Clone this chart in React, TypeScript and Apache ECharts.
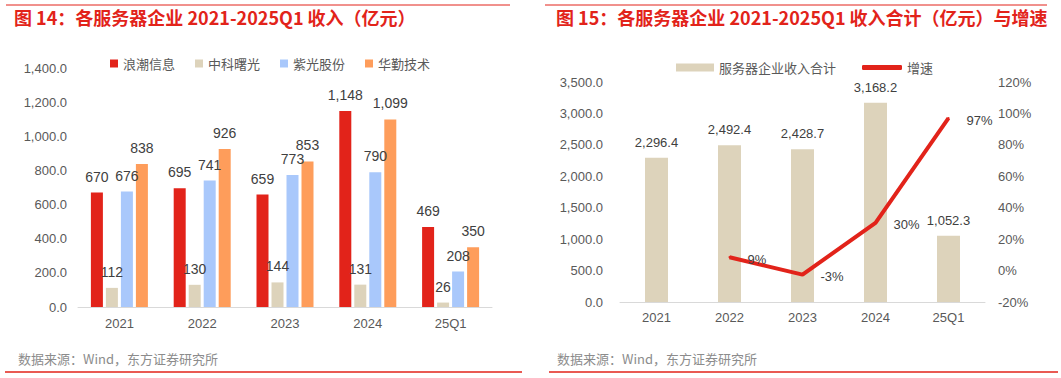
import React, { useEffect, useRef } from "react";
import * as echarts from "echarts";

const categories = ["2021", "2022", "2023", "2024", "25Q1"];
const inspur = [670, 695, 659, 1148, 469];
const sugon = [112, 130, 144, 131, 26];
const unisplendour = [676, 741, 773, 790, 208];
const huaqin = [838, 926, 853, 1099, 350];
const totalRevenue = [2296.4, 2492.4, 2428.7, 3168.2, 1052.3];
const growth = [null, 8.5, -2.6, 30.4, 97];

const FONT = "'Liberation Sans', 'Noto Sans CJK SC', sans-serif";
const CJK = "'Noto Sans CJK SC', 'Liberation Sans', sans-serif";
const RED = "#e2231a";
const BEIGE = "#ddd3bb";
const BLUE = "#a9c8fb";
const ORANGE = "#fe9d5b";
const AXIS_TXT = "#595959";
const LABEL_TXT = "#404040";

const fmt1 = (v: number) =>
  v.toLocaleString("en-US", { minimumFractionDigits: 1, maximumFractionDigits: 1 });
const fmt0 = (v: number) => Math.round(v).toLocaleString("en-US");

export default function App() {
  const ref = useRef<HTMLDivElement>(null);
  useEffect(() => {
    if (!ref.current) return;
    const chart = echarts.init(ref.current, null, { renderer: "svg" });
    const barLabel = {
      show: true,
      position: "top" as const,
      distance: 9,
      color: LABEL_TXT,
      fontSize: 14,
      fontFamily: FONT,
      formatter: (p: any) => fmt0(p.value),
    };
    const mkBar = (name: string, data: number[], color: string) => ({
      name,
      type: "bar",
      xAxisIndex: 0,
      yAxisIndex: 0,
      data,
      barWidth: 12,
      barGap: "25%",
      itemStyle: { color },
      label: barLabel,
    });
    chart.setOption({
      animation: false,
      backgroundColor: "#fff",
      textStyle: { fontFamily: FONT },
      graphic: [
        { type: "line", shape: { x1: 6, y1: 5, x2: 510, y2: 5 }, style: { stroke: RED, lineWidth: 1 } },
        { type: "line", shape: { x1: 545, y1: 5, x2: 1047, y2: 5 }, style: { stroke: RED, lineWidth: 1 } },
        { type: "line", shape: { x1: 5, y1: 372, x2: 522, y2: 372 }, style: { stroke: RED, lineWidth: 1.5 } },
        { type: "line", shape: { x1: 549, y1: 372, x2: 1058, y2: 372 }, style: { stroke: RED, lineWidth: 1.5 } },
        {
          type: "text",
          left: 14,
          top: 8,
          style: { text: "图 14：各服务器企业 2021-2025Q1 收入（亿元）", fill: RED, font: `bold 18px ${CJK}` },
        },
        {
          type: "text",
          left: 556,
          top: 8,
          style: { text: "图 15：各服务器企业 2021-2025Q1 收入合计（亿元）与增速", fill: RED, font: `bold 18px ${CJK}` },
        },
        {
          type: "text",
          left: 18,
          top: 352,
          style: { text: "数据来源：Wind，东方证券研究所", fill: "#8c8c8c", font: `13px ${CJK}` },
        },
        {
          type: "text",
          left: 557,
          top: 352,
          style: { text: "数据来源：Wind，东方证券研究所", fill: "#8c8c8c", font: `13px ${CJK}` },
        },
      ],
      legend: [
        {
          data: ["浪潮信息", "中科曙光", "紫光股份", "华勤技术"],
          left: 105,
          top: 52,
          itemWidth: 8,
          itemHeight: 8,
          itemGap: 20,
          icon: "rect",
          textStyle: { color: AXIS_TXT, fontSize: 13, fontFamily: CJK },
        },
        {
          data: [{ name: "服务器企业收入合计", icon: "rect" }],
          left: 671,
          top: 56,
          itemWidth: 38,
          itemHeight: 8,
          textStyle: { color: AXIS_TXT, fontSize: 13, fontFamily: CJK },
        },
        {
          data: [{ name: "增速", icon: "roundRect", itemStyle: { color: RED, opacity: 1 } }],
          left: 857,
          top: 56,
          itemWidth: 40,
          itemHeight: 5,
          textStyle: { color: AXIS_TXT, fontSize: 13, fontFamily: CJK },
        },
      ],
      grid: [
        { left: 78, right: 569, top: 68, bottom: 71 },
        { left: 620, right: 76, top: 82, bottom: 76 },
      ],
      xAxis: [
        {
          type: "category",
          gridIndex: 0,
          data: categories,
          axisLine: { lineStyle: { color: "#d9d9d9" } },
          axisTick: { show: false },
          axisLabel: { color: AXIS_TXT, fontSize: 13, margin: 10, fontFamily: FONT },
        },
        {
          type: "category",
          gridIndex: 1,
          data: categories,
          axisLine: { lineStyle: { color: "#d9d9d9" } },
          axisTick: { show: false },
          axisLabel: { color: AXIS_TXT, fontSize: 13, margin: 9, fontFamily: FONT },
        },
      ],
      yAxis: [
        {
          type: "value",
          gridIndex: 0,
          min: 0,
          max: 1400,
          interval: 200,
          splitLine: { show: false },
          axisLine: { show: false },
          axisTick: { show: false },
          axisLabel: { color: AXIS_TXT, fontSize: 13, margin: 11, formatter: (v: number) => fmt1(v), fontFamily: FONT },
        },
        {
          type: "value",
          gridIndex: 1,
          min: 0,
          max: 3500,
          interval: 500,
          splitLine: { show: false },
          axisLine: { show: false },
          axisTick: { show: false },
          axisLabel: { color: AXIS_TXT, fontSize: 13, margin: 17, formatter: (v: number) => fmt1(v), fontFamily: FONT },
        },
        {
          type: "value",
          gridIndex: 1,
          position: "right",
          min: -20,
          max: 120,
          interval: 20,
          splitLine: { show: false },
          axisLine: { show: false },
          axisTick: { show: false },
          axisLabel: { color: AXIS_TXT, fontSize: 13, margin: 13, formatter: (v: number) => `${v}%`, fontFamily: FONT },
        },
      ],
      series: [
        mkBar("浪潮信息", inspur, RED),
        mkBar("中科曙光", sugon, BEIGE),
        mkBar("紫光股份", unisplendour, BLUE),
        mkBar("华勤技术", huaqin, ORANGE),
        {
          name: "服务器企业收入合计",
          type: "bar",
          xAxisIndex: 1,
          yAxisIndex: 1,
          data: totalRevenue,
          barWidth: 23,
          itemStyle: { color: BEIGE },
          label: {
            show: true,
            position: "top",
            distance: 9,
            color: LABEL_TXT,
            fontSize: 13,
            fontFamily: FONT,
            formatter: (p: any) => fmt1(p.value),
          },
        },
        {
          name: "增速",
          type: "line",
          xAxisIndex: 1,
          yAxisIndex: 2,
          data: growth,
          symbol: "circle",
          symbolSize: 2,
          showSymbol: true,
          lineStyle: { color: RED, width: 4 },
          itemStyle: { color: RED },
          label: {
            show: true,
            position: "right",
            distance: 17,
            offset: [0, 2],
            color: LABEL_TXT,
            fontSize: 13,
            fontFamily: FONT,
            formatter: (p: any) => `${Math.round(p.value)}%`,
          },
        },
      ],
    });
    return () => chart.dispose();
  }, []);
  return (
    <div
      ref={ref}
      style={{ position: "fixed", left: 0, top: 0, width: 1061, height: 378, background: "#fff" }}
    />
  );
}
